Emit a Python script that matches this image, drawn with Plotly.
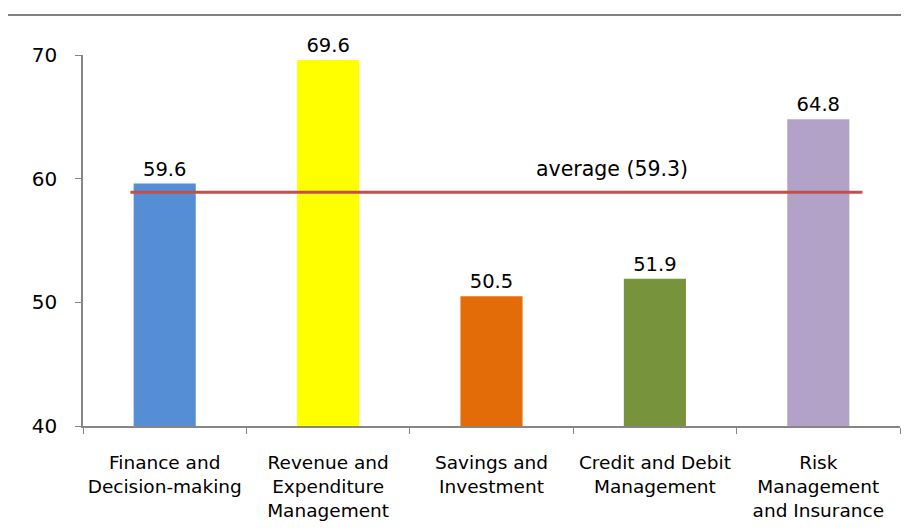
import plotly.graph_objects as go

categories = ["Finance and<br>Decision-making",
              "Revenue and<br>Expenditure<br>Management",
              "Savings and<br>Investment",
              "Credit and Debit<br>Management",
              "Risk<br>Management<br>and Insurance"]
values = [59.6, 69.6, 50.5, 51.9, 64.8]
bar_colors = ["#558ED5", "#FFFF00", "#E36C09", "#77933C", "#B3A2C7"]
average_label = 59.3
average_line_level = 58.9
y_ticks = [40, 50, 60, 70]

FONT = "DejaVu Sans"

fig = go.Figure()
fig.add_trace(go.Bar(
    x=categories, y=values,
    marker=dict(color=bar_colors, line=dict(width=0)),
    width=0.38,
    text=[f"{v:.1f}" for v in values],
    textposition="outside",
    textfont=dict(family=FONT, size=19.5, color="#000000"),
    cliponaxis=False,
))

fig.add_shape(type="line", xref="x", yref="y",
              x0=-0.21, x1=4.27, y0=average_line_level, y1=average_line_level,
              line=dict(color="#C0504D", width=3))
fig.add_annotation(x=2.74, y=average_line_level, xref="x", yref="y",
                   text=f"average ({average_label})", showarrow=False,
                   yanchor="bottom", yshift=9,
                   font=dict(family=FONT, size=20.5, color="#000000"))
# top border line
fig.add_shape(type="line", xref="paper", yref="paper",
              x0=-0.096, x1=1.03, y0=1.108, y1=1.108,
              line=dict(color="#808080", width=2))

fig.update_layout(
    width=909, height=530,
    margin=dict(l=75, r=17, t=47, b=112, autoexpand=False),
    paper_bgcolor="white", plot_bgcolor="white",
    showlegend=False,
    font=dict(family=FONT, size=18, color="#000000"),
    bargap=0.62,
)
fig.update_xaxes(
    automargin=False,
    showline=True, linecolor="#868686", linewidth=1.5,
    ticks="outside", tickson="boundaries", ticklen=6, tickcolor="#868686",
    tickfont=dict(family=FONT, size=18.5, color="#000000"),
    ticklabelstandoff=19,
    showgrid=False, zeroline=False,
)
fig.update_yaxes(
    automargin=False,
    range=[40, 70], tickvals=y_ticks,
    showline=True, linecolor="#868686", linewidth=1.5,
    ticks="outside", ticklen=6, tickcolor="#868686",
    tickfont=dict(family=FONT, size=20, color="#000000"),
    ticklabelstandoff=14,
    showgrid=False, zeroline=False,
)

fig.write_html("out.html")
